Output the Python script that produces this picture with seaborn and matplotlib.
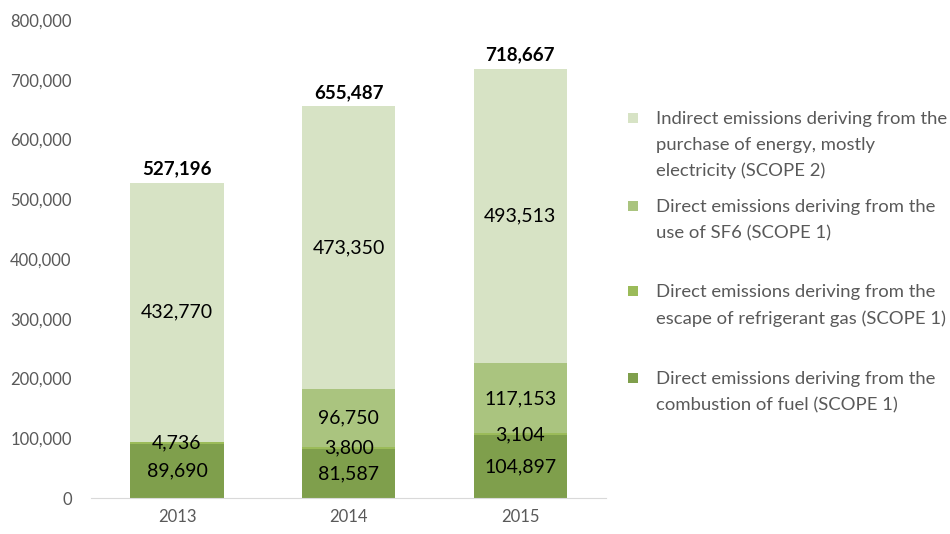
"""
Stacked bar chart of CO2 emissions by scope, 2013-2015.
"""

import numpy as np
import pandas as pd
import matplotlib
matplotlib.use("Agg")
import matplotlib.pyplot as plt
from matplotlib.patches import Rectangle
import seaborn as sns

# ---------------------------------------------------------------------------
# Data
# ---------------------------------------------------------------------------
years       = ['2013', '2014', '2015']
fuel        = [89690, 81587, 104897]
refrigerant = [4736, 3800, 3104]
sf6         = [0, 96750, 117153]
indirect    = [432770, 473350, 493513]

series_names = [
    'Direct emissions deriving from the\ncombustion of fuel (SCOPE 1)',
    'Direct emissions deriving from the\nescape of refrigerant gas (SCOPE 1)',
    'Direct emissions deriving from the\nuse of SF6 (SCOPE 1)',
    'Indirect emissions deriving from the\npurchase of energy, mostly\nelectricity (SCOPE 2)',
]
colors = ['#7F9F4C', '#9BBB59', '#AAC47F', '#D7E3C5']

TEXT_GREY = '#595959'

df = pd.DataFrame({'Year': years, 'fuel': fuel, 'refrigerant': refrigerant,
                   'sf6': sf6, 'indirect': indirect})
layers = ['fuel', 'refrigerant', 'sf6', 'indirect']
cum = df[layers].cumsum(axis=1)
df_cum = pd.concat([df[['Year']], cum], axis=1)

# ---------------------------------------------------------------------------
# Plot
# ---------------------------------------------------------------------------
sns.set_style('white')
plt.rcParams['font.family'] = ['Lato', 'DejaVu Sans']

fig = plt.figure(figsize=(9.5, 5.34), dpi=100)
ax = fig.add_axes([0.096, 0.0674, 0.542, 0.8951])

# draw cumulative totals from the top layer down so each layer shows through
for layer, col in reversed(list(zip(layers, colors))):
    sns.barplot(data=df_cum, x='Year', y=layer, color=col, width=0.545,
                saturation=1, ax=ax, edgecolor='none', linewidth=0)

ax.set_ylim(0, 800000)
ax.set_xlim(-0.5, 2.5)
ax.set_yticks(np.arange(0, 800001, 100000))
ax.yaxis.set_major_formatter(matplotlib.ticker.FuncFormatter(lambda v, p: f'{int(v):,}'))
ax.set_xlabel('')
ax.set_ylabel('')
ax.tick_params(axis='both', colors=TEXT_GREY, labelsize=12, length=0)
ax.tick_params(axis='y', pad=14)
ax.tick_params(axis='x', pad=8)
for s in ['top', 'right', 'left']:
    ax.spines[s].set_visible(False)
ax.spines['bottom'].set_color('#D9D9D9')

# segment value labels
for i in range(len(years)):
    base = 0
    for layer in layers:
        v = df.loc[i, layer]
        if v > 0:
            ax.text(i, base + v / 2, f'{v:,}', ha='center', va='center',
                    fontsize=14, color='black')
        base += v
    ax.text(i, base + 9000, f'{base:,}', ha='center', va='bottom',
            fontsize=13.5, fontweight='bold', color='black')

# legend: manual entries, equal spacing from top
legend_order = list(reversed(range(len(series_names))))
y_first = [118, 206, 291, 378]
for k, idx in enumerate(legend_order):
    ytop = 1 - y_first[k] / 534
    fig.patches.append(Rectangle((628 / 950, ytop - 5 / 534), 10 / 950, 10 / 534,
                                 transform=fig.transFigure, facecolor=colors[idx],
                                 edgecolor='none'))
    fig.text(656 / 950, ytop + 7 / 534, series_names[idx], ha='left', va='top',
             fontsize=13.3, color=TEXT_GREY, linespacing=1.75)

fig.savefig('out.png', dpi=100)
